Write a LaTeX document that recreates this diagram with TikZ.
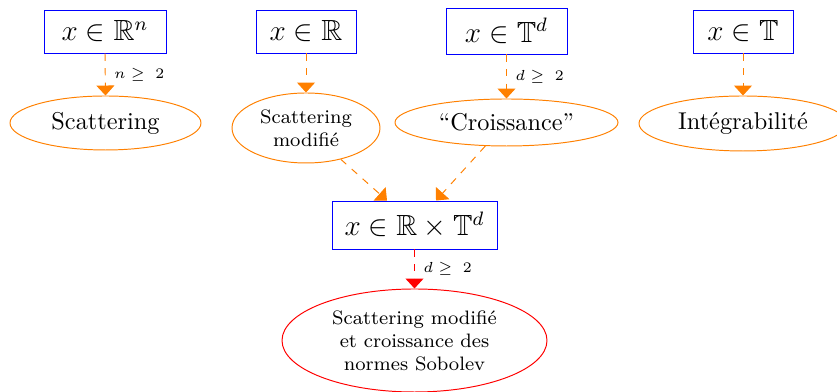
\documentclass[tikz,border=0pt]{standalone}
\usepackage{amssymb}
\usetikzlibrary{arrows.meta,shapes.geometric,calc}
\def\pxu{0.4115pt}
\newcommand\geqlab[1]{$#1$\hspace{2.2pt}$\geq$\hspace{4.3pt}$2$}
\begin{document}
\begin{tikzpicture}[x=0.4115pt,y=-0.4115pt,
  box/.style={draw=blue, rectangle, inner sep=0pt, font=\large},
  ell/.style={draw=orange, ellipse, inner sep=0pt, align=center},
  arr/.style={draw=orange, dashed, -{Triangle[width=7.4pt,length=4.1pt]}},
  lab/.style={midway, right, font=\fontsize{5.6}{6.5}\selectfont, xshift=0.5*\pxu, text=black}]
\useasboundingbox (0,0) rectangle (837,392);
% boxes
\node[box, minimum width=122*\pxu, minimum height=43*\pxu] (b1) at (105,31.5) {$x\in\mathbb{R}^n$};
\node[box, minimum width=100*\pxu, minimum height=43*\pxu] (b2) at (306,31.5) {$x\in\mathbb{R}$};
\node[box, minimum width=121*\pxu, minimum height=46*\pxu] (b3) at (506.5,31) {$x\in\mathbb{T}^d$};
\node[box, minimum width=100*\pxu, minimum height=43*\pxu] (b4) at (743,31.5) {$x\in\mathbb{T}$};
\node[box, minimum width=165*\pxu, minimum height=48*\pxu] (b5) at (414.5,225) {$x\in\mathbb{R}\times\mathbb{T}^d$};
% ellipses
\node[ell, minimum width=191*\pxu, minimum height=54*\pxu] (e1) at (105.5,123) {Scattering};
\node[ell, minimum width=148*\pxu, minimum height=70*\pxu, font=\footnotesize] (e2) at (306,128) {Scattering\\modifi\'e};
\node[ell, minimum width=223*\pxu, minimum height=47*\pxu] (e3) at (506.5,122.5) {``Croissance''};
\node[ell, minimum width=208*\pxu, minimum height=55*\pxu] (e4) at (743,123.5) {Int\'egrabilit\'e};
\node[ell, draw=red, minimum width=265*\pxu, minimum height=103*\pxu, font=\footnotesize] (e5) at (414.5,340.5) {Scattering modifi\'e\\et croissance des\\normes Sobolev};
% arrows
\draw[arr] (b1.south) -- (e1.north) node[lab] {\geqlab{n}};
\draw[arr] (b2.south) -- (e2.north);
\draw[arr] (b3.south) -- (e3.north) node[lab] {\geqlab{d}};
\draw[arr] (b4.south) -- (e4.north);
\draw[arr] (e2.-42) -- ($(b5.north)+(-27.5,0)$);
\draw[arr] (e3.-132.5) -- ($(b5.north)+(21.5,0)$);
\draw[arr, draw=red] (b5.south) -- (e5.north) node[lab] {\geqlab{d}};
\end{tikzpicture}
\end{document}
